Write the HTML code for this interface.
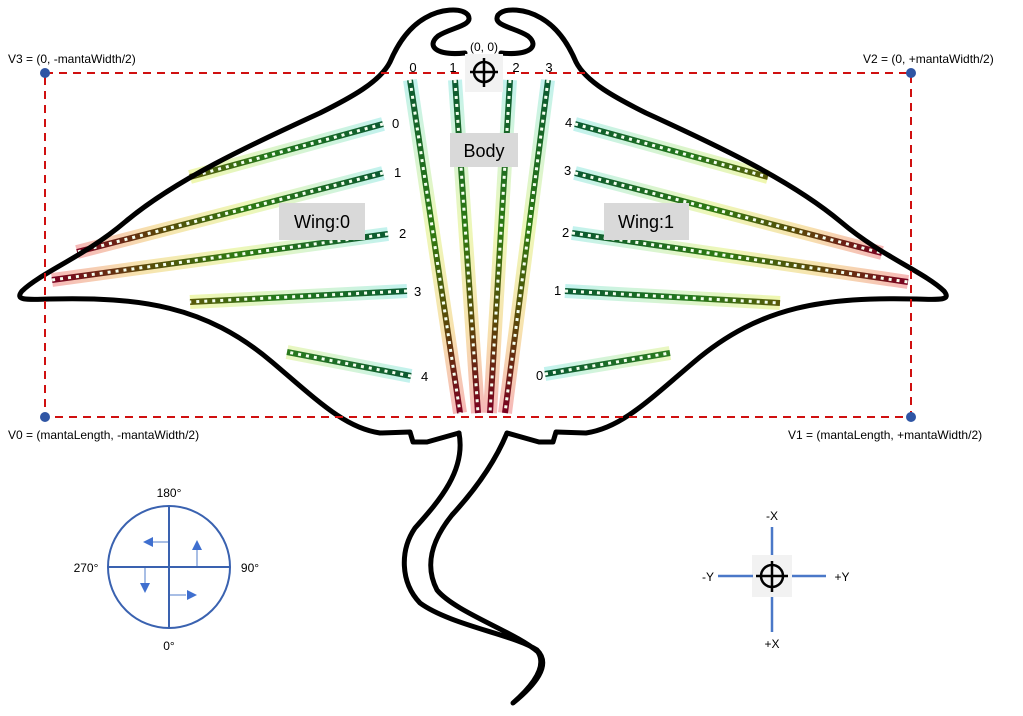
<!DOCTYPE html>
<html><head><meta charset="utf-8"><style>
html,body{margin:0;padding:0;background:#fff;}
svg{display:block;font-family:"Liberation Sans",sans-serif;}
</style></head><body>
<svg id="s" width="1023" height="716" viewBox="0 0 1023 716" xmlns="http://www.w3.org/2000/svg">
<defs id="d"></defs>
<g id="strips"></g>
<g fill="none" stroke="#000" stroke-width="5" stroke-linecap="round" stroke-linejoin="round">
<path id="half" d="M465,53 C436,56 426,46 438,36 C452,27 474,26 468,15 C461,7 440,9 425,18 C406,29 396,48 390,62 C380,82 350,98 320,113 C250,145 175,180 125,222 C85,256 42,272 22,291 C15,300 24,300 50,299 C140,297 205,305 272,362 C318,401 345,428 380,433 L410,432 L413,442 L427,442 L459,433"/>
<use href="#half" transform="translate(966,0) scale(-1,1)"/>
<path d="M459,433 C466,470 440,500 415,528 C400,550 400,582 420,603 C450,625 515,635 537,650 C552,665 535,685 513,703 C530,688 548,668 538,652 C515,632 455,612 437,590 C424,565 432,540 452,515 C475,490 495,462 507,433"/>
</g>
<rect x="45" y="73" width="866" height="344" fill="none" stroke="#d01010" stroke-width="2" stroke-dasharray="8 6"/>
<g fill="#2f55a4"><circle cx="45" cy="73" r="5"/><circle cx="911" cy="73" r="5"/><circle cx="45" cy="417" r="5"/><circle cx="911" cy="417" r="5"/></g>
<g font-size="12" fill="#000">
<text x="8" y="63">V3 = (0, -mantaWidth/2)</text>
<text x="863" y="63">V2 = (0, +mantaWidth/2)</text>
<text x="8" y="439">V0 = (mantaLength, -mantaWidth/2)</text>
<text x="788" y="439">V1 = (mantaLength, +mantaWidth/2)</text>
<text x="484" y="51" text-anchor="middle">(0, 0)</text>
</g>
<rect x="465" y="54" width="38" height="38" fill="#f2f2f2"/>
<g stroke="#000" stroke-width="2.5" fill="none"><circle cx="484" cy="72" r="10"/><line x1="470" y1="72" x2="498" y2="72"/><line x1="484" y1="58" x2="484" y2="87"/></g>
<rect x="450" y="133" width="68" height="34" fill="#d9d9d9"/><text x="484" y="157" font-size="18" text-anchor="middle">Body</text>
<rect x="279" y="203" width="86" height="37" fill="#d9d9d9"/><text x="322" y="228" font-size="18" text-anchor="middle">Wing:0</text>
<rect x="604" y="203" width="85" height="37" fill="#d9d9d9"/><text x="646" y="228" font-size="18" text-anchor="middle">Wing:1</text>
<g font-size="13" fill="#000">
<text x="413" y="72" text-anchor="middle">0</text><text x="453" y="72" text-anchor="middle">1</text><text x="516" y="72" text-anchor="middle">2</text><text x="549" y="72" text-anchor="middle">3</text>
<text x="392" y="128">0</text><text x="394" y="177">1</text><text x="399" y="238">2</text><text x="414" y="296">3</text><text x="421" y="381">4</text>
<text x="565" y="127">4</text><text x="564" y="175">3</text><text x="562" y="237">2</text><text x="554" y="295">1</text><text x="536" y="380">0</text>
</g>
<g stroke="#3a62b0" stroke-width="2" fill="none"><circle cx="169" cy="567" r="61"/><line x1="108" y1="567" x2="230" y2="567"/><line x1="169" y1="506" x2="169" y2="628"/></g>
<g stroke="#8aa8dc" stroke-width="1.5"><line x1="168" y1="542" x2="152" y2="542"/><line x1="197" y1="566" x2="197" y2="550"/><line x1="145" y1="568" x2="145" y2="584"/><line x1="170" y1="595" x2="186" y2="595"/></g>
<g fill="#3f6fcf"><polygon points="143,542 153,537 153,547"/><polygon points="197,540 192,550 202,550"/><polygon points="145,593 140,583 150,583"/><polygon points="197,595 187,590 187,600"/></g>
<g font-size="12" fill="#000"><text x="169" y="497" text-anchor="middle">180°</text><text x="169" y="650" text-anchor="middle">0°</text><text x="86" y="572" text-anchor="middle">270°</text><text x="250" y="572" text-anchor="middle">90°</text></g>
<rect x="752" y="555" width="40" height="42" fill="#f2f2f2"/>
<g stroke="#4a78c8" stroke-width="2.5"><line x1="772" y1="527" x2="772" y2="555"/><line x1="772" y1="597" x2="772" y2="632"/><line x1="718" y1="576" x2="753" y2="576"/><line x1="792" y1="576" x2="826" y2="576"/></g>
<g stroke="#000" stroke-width="2.5" fill="none"><circle cx="772" cy="576" r="11"/><line x1="756" y1="576" x2="788" y2="576"/><line x1="772" y1="561" x2="772" y2="592"/></g>
<g font-size="12" fill="#000"><text x="772" y="520" text-anchor="middle">-X</text><text x="772" y="648" text-anchor="middle">+X</text><text x="708" y="581" text-anchor="middle">-Y</text><text x="842" y="581" text-anchor="middle">+Y</text></g>
</svg>
<script>
var NS="http://www.w3.org/2000/svg";
var d=document.getElementById("d"),g=document.getElementById("strips");
var S=[[383,124,190,177,"y"],[383,173,77,252,"r"],[388,234,52,280,"r"],[407,291,190,302,"y"],[411,376,287,352,"g"],
[575,124,768,177,"y"],[575,173,882,253,"r"],[572,233,908,282,"r"],[565,291,780,303,"y"],[545,374,670,353,"g"],
[410,80,460,413,"r"],[455,80,478,413,"r"],[510,80,490,413,"r"],[548,80,505,413,"r"]];
function grad(id,a,stops){var l=document.createElementNS(NS,"linearGradient");l.id=id;l.setAttribute("gradientUnits","userSpaceOnUse");
l.setAttribute("x1",a[0]);l.setAttribute("y1",a[1]);l.setAttribute("x2",a[2]);l.setAttribute("y2",a[3]);
stops.forEach(function(s){var e=document.createElementNS(NS,"stop");e.setAttribute("offset",s[0]);e.setAttribute("stop-color",s[1]);l.appendChild(e);});d.appendChild(l);}
function line(a,stroke,w,extra){var e=document.createElementNS(NS,"line");e.setAttribute("x1",a[0]);e.setAttribute("y1",a[1]);e.setAttribute("x2",a[2]);e.setAttribute("y2",a[3]);
e.setAttribute("stroke",stroke);e.setAttribute("stroke-width",w);if(extra)for(var k in extra)e.setAttribute(k,extra[k]);g.appendChild(e);}
S.forEach(function(s,i){var a=[s[0],s[1],s[2],s[3]],t=s[4];
var gs,cs;
if(t=="r"){gs=[[0,"#c2f2ee"],[0.45,"#eef7b8"],[0.75,"#f7e2ae"],[1,"#f6b8b8"]];cs=[[0,"#0b5a32"],[0.45,"#2f7a12"],[0.72,"#5a4a08"],[1,"#7a0020"]];}
else if(t=="y"){gs=[[0,"#c2f2ee"],[1,"#f0f7b0"]];cs=[[0,"#0b5a32"],[0.6,"#24781a"],[1,"#5a5a08"]];}
else{gs=[[0,"#c2f2ee"],[1,"#eaf7c0"]];cs=[[0,"#0b5a32"],[1,"#2a7a1e"]];}
grad("g"+i,a,gs);grad("c"+i,a,cs);
line(a,"url(#g"+i+")",14);
line(a,"url(#c"+i+")",6);
line(a,"#f4fff0",3,{"stroke-dasharray":"3 5"});
});
</script>
</body></html>
